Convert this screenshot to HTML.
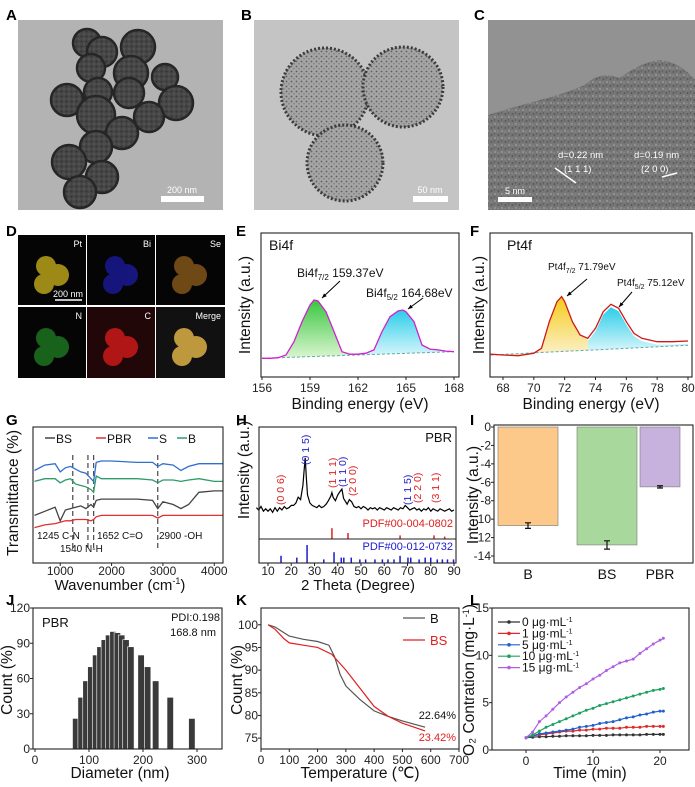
<!DOCTYPE html>
<html><head><meta charset="utf-8">
<style>
html,body{margin:0;padding:0;background:#fff;}
svg{display:block;font-family:"Liberation Sans",Arial,sans-serif;}
.pl{font-weight:bold;font-size:15px;fill:#000;}
.tk{font-size:12px;fill:#222;}
.at{font-size:15.5px;fill:#111;}
</style></head>
<body>
<svg id="fig" width="695" height="787" viewBox="0 0 695 787" xmlns="http://www.w3.org/2000/svg">
<defs>
<pattern id="speck" width="7" height="7" patternUnits="userSpaceOnUse"><rect width="7" height="7" fill="#777"/><circle cx="1.5" cy="2" r="1" fill="#5a5a5a"/><circle cx="5" cy="5" r="1.1" fill="#939393"/><circle cx="4.5" cy="1" r="0.7" fill="#555"/><circle cx="1" cy="5.5" r="0.8" fill="#8c8c8c"/></pattern>
<pattern id="speckB" width="5" height="5" patternUnits="userSpaceOnUse"><rect width="5" height="5" fill="#a5a5a5"/><circle cx="1.5" cy="1.5" r="0.9" fill="#5e5e5e"/><circle cx="4" cy="3.8" r="0.7" fill="#707070"/></pattern>
<pattern id="speckA" width="5" height="5" patternUnits="userSpaceOnUse"><rect width="5" height="5" fill="#474747"/><circle cx="1.5" cy="1.5" r="1" fill="#333"/><circle cx="4" cy="4" r="0.8" fill="#5e5e5e"/></pattern>
<linearGradient id="gGreen" x1="0" y1="0" x2="0" y2="1"><stop offset="0" stop-color="#22c02a"/><stop offset="1" stop-color="#d8f5cc"/></linearGradient>
<linearGradient id="gCyan" x1="0" y1="0" x2="0" y2="1"><stop offset="0" stop-color="#14c8e6"/><stop offset="1" stop-color="#d0f4fa"/></linearGradient>
<linearGradient id="gYel" x1="0" y1="0" x2="0" y2="1"><stop offset="0" stop-color="#f3c600"/><stop offset="1" stop-color="#fbefc8"/></linearGradient>
</defs>

<text class="pl" x="6" y="20">A</text>
<g>
<rect x="18" y="20" width="205" height="190" fill="#b3b3b3"/>
<g fill="url(#speckA)" stroke="#262626" stroke-width="2.5">
<circle cx="87" cy="43" r="14"/><circle cx="102" cy="52" r="15"/><circle cx="138" cy="47" r="17"/><circle cx="91" cy="68" r="14"/><circle cx="131" cy="73" r="17"/><circle cx="165" cy="77" r="13"/><circle cx="67" cy="100" r="16"/><circle cx="98" cy="92" r="14"/><circle cx="129" cy="93" r="15"/><circle cx="176" cy="103" r="17"/><circle cx="96" cy="115" r="19"/><circle cx="149" cy="117" r="15"/><circle cx="122" cy="133" r="16"/><circle cx="96" cy="147" r="16"/><circle cx="69" cy="162" r="17"/><circle cx="102" cy="177" r="16"/><circle cx="80" cy="192" r="16"/>
</g>
<rect x="161" y="196" width="43" height="6" fill="#fff"/>
<text x="182" y="193" font-size="9" fill="#fff" text-anchor="middle">200 nm</text>
</g>
<text class="pl" x="241" y="20">B</text>
<g>
<rect x="254" y="20" width="205" height="190" fill="#c4c4c4"/>
<g fill="url(#speckB)" stroke="#3b3b3b" stroke-width="3" stroke-dasharray="2 2">
<circle cx="325" cy="92" r="44"/><circle cx="403" cy="87" r="40"/><circle cx="345" cy="163" r="38"/>
</g>
<rect x="413" y="196" width="35" height="6" fill="#fff"/>
<text x="430" y="193" font-size="9" fill="#fff" text-anchor="middle">50 nm</text>
</g>
<text class="pl" x="474" y="20">C</text>
<g>
<rect x="488" y="20" width="207" height="190" fill="url(#speck)"/>
<path d="M488 20 H695 V80 Q680 62 660 60 Q640 62 620 78 Q600 70 585 85 Q560 95 540 100 Q510 108 488 115 Z" fill="#929292"/>
<line x1="555" y1="168" x2="576" y2="183" stroke="#fff" stroke-width="1.5"/>
<line x1="662" y1="177" x2="677" y2="173" stroke="#fff" stroke-width="1.5"/>
<text x="558" y="158" font-size="9.5" fill="#fff">d=0.22 nm</text>
<text x="564" y="172" font-size="9.5" fill="#fff">(1 1 1)</text>
<text x="634" y="158" font-size="9.5" fill="#fff">d=0.19 nm</text>
<text x="641" y="172" font-size="9.5" fill="#fff">(2 0 0)</text>
<rect x="498" y="197" width="34" height="5" fill="#fff"/>
<text x="515" y="194" font-size="9" fill="#fff" text-anchor="middle">5 nm</text>
</g>

<text class="pl" x="6" y="236">D</text>
<g font-size="9" fill="#fff">
<rect x="18" y="235" width="68" height="70" fill="#050505"/>
<rect x="87" y="235" width="68" height="70" fill="#050505"/>
<rect x="156" y="235" width="69" height="70" fill="#050505"/>
<rect x="18" y="307" width="68" height="71" fill="#050505"/>
<rect x="87" y="307" width="68" height="71" fill="#080808"/>
<rect x="156" y="307" width="69" height="71" fill="#111"/>
<g fill="#b8a21a" opacity="0.85"><circle cx="46" cy="266" r="10"/><circle cx="58" cy="275" r="11"/><circle cx="44" cy="284" r="10"/></g>
<g fill="#1a1a9a" opacity="0.8"><circle cx="115" cy="266" r="10"/><circle cx="127" cy="275" r="11"/><circle cx="113" cy="284" r="10"/></g>
<g fill="#8a5a1a" opacity="0.8"><circle cx="184" cy="266" r="10"/><circle cx="196" cy="275" r="11"/><circle cx="182" cy="284" r="10"/></g>
<g fill="#1f7a22" opacity="0.8"><circle cx="46" cy="338" r="10"/><circle cx="58" cy="347" r="11"/><circle cx="44" cy="356" r="10"/></g>
<rect x="87" y="307" width="68" height="71" fill="#3a0505" opacity="0.5"/>
<g fill="#c01818" opacity="0.9"><circle cx="115" cy="338" r="10"/><circle cx="127" cy="347" r="11"/><circle cx="113" cy="356" r="10"/></g>
<g fill="#c8a040" opacity="0.95"><circle cx="184" cy="338" r="10"/><circle cx="196" cy="347" r="11"/><circle cx="182" cy="356" r="10"/></g>
<text x="82" y="247" text-anchor="end">Pt</text><text x="151" y="247" text-anchor="end">Bi</text><text x="221" y="247" text-anchor="end">Se</text>
<text x="82" y="319" text-anchor="end">N</text><text x="151" y="319" text-anchor="end">C</text><text x="221" y="319" text-anchor="end">Merge</text>
<line x1="55" y1="300" x2="82" y2="300" stroke="#fff" stroke-width="1.5"/>
<text x="68" y="297" text-anchor="middle">200 nm</text>
</g>

<text class="pl" x="236" y="236">E</text>
<text class="pl" x="470" y="236">F</text>
<text class="pl" x="6" y="425">G</text>
<text class="pl" x="236" y="425">H</text>
<text class="pl" x="470" y="425">I</text>
<text class="pl" x="6" y="605">J</text>
<text class="pl" x="236" y="605">K</text>
<text class="pl" x="470" y="605">L</text>
</svg>

<script>
const eEnergy = [156,156.5,157,157.5,158,158.5,159,159.25,159.5,160,160.5,161,161.5,162,162.5,163,163.5,164,164.5,164.8,165,165.5,166,166.5,167,167.5,168];
const eIntensity = [13,13,13.4,15.3,24.5,38.4,50,53.5,52.8,45.3,31.5,17.6,15.8,15.8,16.5,18.8,31.5,41.9,45.8,46.5,45.3,38.4,22.2,19.4,18.8,18,17.6];
const eBaseline = [13,17.6];
const fEnergy = [67.2,68,69,70,70.5,71,71.5,71.8,72,72.5,73,73.5,74,74.5,75,75.5,76,76.5,77,78,79,80];
const fIntensity = [15.8,15.3,14.8,16.5,19.9,38.4,52.3,55.8,52.3,38.4,29.2,26.9,33.8,45.3,50.5,47.7,38.4,30.3,26.9,24.5,24.5,25];
const fBaseline = [15.3,22];
const gWave = [500,700,900,1000,1100,1200,1300,1400,1500,1600,1650,1700,1800,2000,2500,2800,2900,3000,3200,3350,3500,3700,4000,4170];
const gBS = [35,38,41,31,39,40,41,42,40,43,41,46,47,47,47,46,40,45,43,40,43,52,53,53];
const gPBR = [26,28,29,30,31,31,32,32,32,31,32,34,35,35,35,35,33,35,35,35,35,35,35,35];
const gS = [68,72,73,67,70,71,69,67,66,62,60,74,75,75,74,74,71,73,72,68,71,73,73,73];
const gB = [60,62,62,59,61,62,58,57,56,54,52,64,62,62,62,61,59,61,61,60,61,62,60,60];
const gMarks = [1245,1540,1652,2900];
const gTicks = [1000,2000,3000,4000];
const hTheta = [5,6,7,8,9,10,11,12,13,14,15,16,17,18,19,20,21,22,23,24,24.5,25,25.5,26,26.5,27,28,29,30,31,32,33,34,35,36,37,37.5,38,39,40,41,41.8,42.5,44,45,46,47,48,49,50,51,52,53,54,55,56,57,58,59,60,61,62,63,64,65,66,67,68,69,70,71,72,73,74,75,76,77,78,79,80,81,82,83,84,85,86,87,88,89,90,91,92];
const hInt = [27,25,28,24,26,24,26,23,27,24,27,25,28,26,27,29,29,31,36,34,40,46,58,70,52,38,31,29,28,27,29,27,28,30,33,37,40,36,33,38,41,43,35,30,34,32,28,27,28,26,28,27,25,27,26,27,25,27,26,25,27,26,25,27,26,25,27,26,29,27,25,26,27,25,26,24,26,25,27,24,26,25,24,26,25,24,25,26,24,25];
const hRefRed = [37.5,44.4,66.8,81.4,86];
const hRefRedH = [9,5,3,3,2];
const hRefBlue = [15.6,22.4,26.8,34,38.4,41.5,42.6,45.8,49.5,52,56,59.2,61.6,64.2,66.8,70.2,71.4,75,77.6,80,82.8,85,87.2,89.8];
const hRefBlueH = [4,3,10,2,6,3,3,3,2,2,2,2,2,2,4,3,3,2,3,3,2,2,2,2];
const hLabels = [["(0 0 6)",15.2,"#d22",505],["(0 1 5)",25.9,"#22c",465],["(1 1 1)",37.5,"#d22",488],["(1 1 0)",41.8,"#22c",487],["(2 0 0)",46.1,"#d22",496],["(1 1 5)",69.8,"#22c",505],["(2 2 0)",74.1,"#d22",503],["(3 1 1)",81.8,"#d22",503]];
const hTicks = [10,20,30,40,50,60,70,80,90];
const iCats = ["B","BS","PBR"];
const iVals = [-10.7,-12.8,-6.5];
const iErr = [0.3,0.45,0.12];
const iColors = ["#fcc98a","#a9d89c","#c6b2dc"];
const iTicks = [0,-2,-4,-6,-8,-10,-12,-14];
const jDiam = [75,85,94,103,112,120,128,136,144,152,160,168,177,196,208,223,250,290];
const jCount = [26,44,58,70,80,87,93,97,100,99,97,93,87,80,70,58,44,26];
const jXTicks = [0,100,200,300];
const jYTicks = [0,30,60,90,120];
const kTempB = [25,50,100,150,200,240,260,280,300,350,400,450,500,580];
const kB = [100,99.5,97.5,96.8,96.3,95.5,93,89,86.5,83.5,81,79.8,78.8,77.4];
const kTempBS = [25,50,80,100,150,200,250,300,350,400,450,500,580];
const kBS = [100,99,97,96,95.5,95,93.5,90,86,82,79.8,78.3,76.6];
const kXTicks = [0,100,200,300,400,500,600,700];
const kYTicks = [75,80,85,90,95,100];
const lTime = [0,1,2,3,4,5,6,7,8,9,10,11,12,13,14,15,16,17,18,19,20,20.5];
const l0 = [1.3,1.35,1.4,1.4,1.45,1.45,1.5,1.5,1.5,1.5,1.55,1.55,1.55,1.6,1.6,1.6,1.6,1.6,1.65,1.65,1.65,1.65];
const l1 = [1.3,1.5,1.6,1.7,1.8,1.9,2.0,2.0,2.1,2.1,2.2,2.2,2.3,2.3,2.3,2.4,2.4,2.4,2.5,2.5,2.5,2.5];
const l5 = [1.3,1.5,1.7,1.8,1.9,2.0,2.1,2.2,2.4,2.5,2.6,2.8,2.9,3.0,3.2,3.4,3.5,3.7,3.8,4.0,4.1,4.1];
const l10 = [1.3,1.6,2.0,2.4,2.7,3.0,3.3,3.6,3.9,4.2,4.4,4.7,4.9,5.1,5.3,5.5,5.7,5.9,6.1,6.3,6.4,6.5];
const l15 = [1.3,1.9,3.0,3.6,4.3,5.0,5.6,6.1,6.6,7.0,7.5,7.9,8.4,8.8,9.2,9.4,9.6,10.2,10.7,11.2,11.6,11.8];
const lXTicks = [0,10,20];
const lYTicks = [0,5,10,15];

const NS = "http://www.w3.org/2000/svg";
const fig = document.getElementById("fig");
function mk(tag, attrs, parent){
  const e = document.createElementNS(NS, tag);
  for (const k in attrs) e.setAttribute(k, attrs[k]);
  (parent||fig).appendChild(e);
  return e;
}
function lin(d0,d1,r0,r1){ return v => r0 + (v-d0)/(d1-d0)*(r1-r0); }
function frame(g,x0,y0,x1,y1){
  const r = mk("rect",{x:x0,y:y0,width:x1-x0,height:y1-y0,fill:"none",stroke:"#222","stroke-width":1.1},g);
  
  
}
function xTicks(g,ticks,sx,y,off){
  const o = off||15;
  ticks.forEach(t=>{
    const l = mk("line",{x1:sx(t),x2:sx(t),y1:y,y2:y+3,stroke:"#222"},g);
    
    
    const tx = mk("text",{x:sx(t),y:y+o,"text-anchor":"middle",class:"tk"},g);
    
    
    tx.textContent = t;
  });
}
function yTicks(g,ticks,sy,x){
  ticks.forEach(t=>{
    const l = mk("line",{x1:x-3,x2:x,y1:sy(t),y2:sy(t),stroke:"#222"},g);
    
    
    const tx = mk("text",{x:x-3,y:sy(t)+4,"text-anchor":"end",class:"tk"},g);
    
    
    tx.textContent = t;
  });
}
function xTitle(g,txt,x,y,fs){
  const t = mk("text",{x:x,y:y,"text-anchor":"middle",class:"at"},g);
  if(fs) t.setAttribute("font-size",fs), t.style.fontSize=fs+"px";
  
  
  t.innerHTML = txt;
}
function yTitle(g,txt,x,y){
  const t = mk("text",{x:x,y:y,"text-anchor":"middle",class:"at",transform:`rotate(-90 ${x} ${y})`},g);
  
  
  t.innerHTML = txt;
}
function pathOf(xs,ys,sx,sy){ return xs.map((v,i)=>(i?"L":"M")+sx(v).toFixed(1)+" "+sy(ys[i]).toFixed(1)).join(" "); }
function label(g,txt,x,y,opts,name){
  const a = Object.assign({x:x,y:y,"font-size":11,fill:"#111"},opts||{});
  const t = mk("text",a,g);
  
  
  t.innerHTML = txt;
  return t;
}
function arrow(g,x1,y1,x2,y2){
  const l = mk("line",{x1:x1,y1:y1,x2:x2,y2:y2,stroke:"#000","stroke-width":1},g);
  
  
  const ang = Math.atan2(y2-y1,x2-x1), s=5;
  const p = mk("path",{d:`M${x2} ${y2} L${x2-s*Math.cos(ang-0.4)} ${y2-s*Math.sin(ang-0.4)} L${x2-s*Math.cos(ang+0.4)} ${y2-s*Math.sin(ang+0.4)} Z`,fill:"#000"},g);
  
  
}

// E
(function(){
  const g = mk("g",{});  
  const x0=261,x1=459,y0=233,y1=377;
  const sx = lin(156,168,262,454), sy = lin(0,100,y1,y1-144);
  const bl = e => eBaseline[0] + (e-156)/(12)*(eBaseline[1]-eBaseline[0]);
  const split = 162;
  const le=[],li=[],re=[],ri=[];
  eEnergy.forEach((e,i)=>{ if(e<=split){le.push(e);li.push(eIntensity[i]);} if(e>=split){re.push(e);ri.push(eIntensity[i]);} });
  [[le,li,"url(#gGreen)","fill-bi4f72"],[re,ri,"url(#gCyan)","fill-bi4f52"]].forEach(([xs,ys,fill,nm])=>{
    let d = pathOf(xs,ys,sx,sy);
    for(let i=xs.length-1;i>=0;i--) d += " L"+sx(xs[i]).toFixed(1)+" "+sy(bl(xs[i])).toFixed(1);
    const p = mk("path",{d:d+" Z",fill:fill,opacity:0.9},g);
     
  });
  const b = mk("line",{x1:sx(156),y1:sy(eBaseline[0]),x2:sx(168),y2:sy(eBaseline[1]),stroke:"#6aa","stroke-dasharray":"3 2"},g);
   
  const env = mk("path",{d:pathOf(eEnergy,eIntensity,sx,sy),fill:"none",stroke:"#d020d0","stroke-width":1.3},g);
   
  frame(g,x0,y0,x1,y1);
  xTicks(g,[156,159,162,165,168],sx,y1);
  xTitle(g,"Binding energy (eV)",360,409);
  yTitle(g,"Intensity (a.u.)",250,305);
  label(g,"Bi4f",269,250,{"font-size":14},"panel-title");
  label(g,"Bi4f<tspan font-size='8' dy='3'>7/2</tspan><tspan dy='-3'> 159.37eV</tspan>",297,277,{"font-size":12},"peak-label-bi4f72");
  label(g,"Bi4f<tspan font-size='8' dy='3'>5/2</tspan><tspan dy='-3'> 164.68eV</tspan>",366,297,{"font-size":12},"peak-label-bi4f52");
  arrow(g,340,281,322,298);
  arrow(g,423,298,408,309);
})();

// F
(function(){
  const g = mk("g",{});  
  const x0=490,x1=692,y0=233,y1=377;
  const sx = lin(68,80,503,688), sy = lin(0,100,y1,y1-144);
  const bl = e => fBaseline[0] + (e-67.2)/(80-67.2)*(fBaseline[1]-fBaseline[0]);
  const split = 73.5;
  const le=[],li=[],re=[],ri=[];
  fEnergy.forEach((e,i)=>{ if(e<=split){le.push(e);li.push(fIntensity[i]);} if(e>=split){re.push(e);ri.push(fIntensity[i]-2);} });
  [[le,li,"url(#gYel)","fill-pt4f72"],[re,ri,"url(#gCyan)","fill-pt4f52"]].forEach(([xs,ys,fill,nm])=>{
    let d = pathOf(xs,ys,sx,sy);
    for(let i=xs.length-1;i>=0;i--) d += " L"+sx(xs[i]).toFixed(1)+" "+sy(bl(xs[i])).toFixed(1);
    const p = mk("path",{d:d+" Z",fill:fill,opacity:0.9},g);
     
  });
  const b = mk("line",{x1:sx(67.2),y1:sy(fBaseline[0]),x2:sx(80),y2:sy(fBaseline[1]),stroke:"#6aa","stroke-dasharray":"3 2"},g);
   
  const env = mk("path",{d:pathOf(fEnergy,fIntensity,sx,sy),fill:"none",stroke:"#d01818","stroke-width":1.3},g);
   
  frame(g,x0,y0,x1,y1);
  xTicks(g,[68,70,72,74,76,78,80],sx,y1);
  xTitle(g,"Binding energy (eV)",591,409);
  yTitle(g,"Intensity (a.u.)",484,305);
  label(g,"Pt4f",507,250,{"font-size":14},"panel-title");
  label(g,"Pt4f<tspan font-size='7' dy='3'>7/2</tspan><tspan dy='-3'> 71.79eV</tspan>",548,270,{"font-size":10},"peak-label-pt4f72");
  label(g,"Pt4f<tspan font-size='7' dy='3'>5/2</tspan><tspan dy='-3'> 75.12eV</tspan>",617,286,{"font-size":10},"peak-label-pt4f52");
  arrow(g,587,279,567,296);
  arrow(g,632,292,619,307);
})();

// G
(function(){
  const g = mk("g",{});  
  const x0=33,x1=223,y0=427,y1=563;
  const sx = lin(470,4170,x0,x1), sy = lin(0,100,y1,y0);
  gMarks.forEach(m=>{
    const l = mk("line",{x1:sx(m),x2:sx(m),y1:455,y2:550,stroke:"#222","stroke-dasharray":"5 3"},g);
     
  });
  [[gBS,"#444","series-bs"],[gPBR,"#e03030","series-pbr"],[gS,"#2f6fd0","series-s"],[gB,"#2f9a6a","series-b"]].forEach(([ys,c,nm])=>{
    const p = mk("path",{d:pathOf(gWave,ys,sx,sy),fill:"none",stroke:c,"stroke-width":1.3},g);
     
  });
  frame(g,x0,y0,x1,y1);
  xTicks(g,gTicks,sx,y1,12);
  xTitle(g,"Wavenumber (cm<tspan font-size='9' dy='-6'>-1</tspan><tspan dy='6'>)</tspan>",120,590,15);
  yTitle(g,"Transmittance (%)",18,493);
  const leg = [["BS","#444",45],["PBR","#e03030",96],["S","#2f6fd0",148],["B","#2f9a6a",177]];
  leg.forEach(([t,c,x])=>{
    const l = mk("line",{x1:x,x2:x+10,y1:438,y2:438,stroke:c,"stroke-width":1.5},g);
     
    label(g,t,x+11,443,{"font-size":12},"legend-entry");
  });
  label(g,"1245 C-N",37,539,{"font-size":10},"band-label-cn");
  label(g,"1540 N-H",60,552,{"font-size":10},"band-label-nh");
  label(g,"1652 C=O",97,539,{"font-size":10},"band-label-co");
  label(g,"2900 -OH",159,539,{"font-size":10},"band-label-oh");
})();

// H
(function(){
  const g = mk("g",{});  
  const x0=259,x1=456,y0=427,y1=563,ySplit=539;
  const sx = lin(10,90,268,454), sy = lin(0,100,ySplit,ySplit-116);
  const p = mk("path",{d:pathOf(hTheta,hInt,sx,sy),fill:"none",stroke:"#000","stroke-width":1.2},g);
   
  const sr = lin(0,10,ySplit,ySplit-12);
  hRefRed.forEach((t,i)=>{
    const l = mk("line",{x1:sx(t),x2:sx(t),y1:ySplit,y2:sr(hRefRedH[i]),stroke:"#e02020","stroke-width":1.5},g);
     
  });
  const sb = lin(0,10,y1,y1-18);
  hRefBlue.forEach((t,i)=>{
    const l = mk("line",{x1:sx(t),x2:sx(t),y1:y1,y2:sb(hRefBlueH[i]),stroke:"#1a1ad0","stroke-width":1.5},g);
     
  });
  const sl = mk("line",{x1:x0,x2:x1,y1:ySplit,y2:ySplit,stroke:"#222"},g);
   
  hLabels.forEach(([t,th,c,yb])=>{
    const x = sx(th)+4;
    const tx = mk("text",{x:x,y:yb,fill:c,"font-size":10.5,transform:`rotate(-90 ${x} ${yb})`},g);
     
    tx.textContent = t;
  });
  frame(g,x0,y0,x1,y1);
  xTicks(g,hTicks,sx,y1,12);
  xTitle(g,"2 Theta (Degree)",358,590,15);
  yTitle(g,"Intensity (a.u.)",249,470);
  label(g,"PBR",452,442,{"font-size":13,"text-anchor":"end"},"sample-label");
  label(g,"PDF#00-004-0802",453,527,{"font-size":11,fill:"#e02020","text-anchor":"end"},"ref-label-red");
  label(g,"PDF#00-012-0732",453,550,{"font-size":11,fill:"#1a1ad0","text-anchor":"end"},"ref-label-blue");
})();

// I
(function(){
  const g = mk("g",{});  
  const x0=494,x1=693,y0=427,y1=563;
  const sy = lin(0,-14,y0,556);
  const sx = i => [528,607,660][i];
  const bw = [60,60,40];
  iVals.forEach((v,i)=>{
    const r = mk("rect",{x:sx(i)-bw[i]/2,y:sy(0),width:bw[i],height:sy(v)-sy(0),fill:iColors[i],stroke:"#777","stroke-width":0.6},g);
     
    const e = mk("path",{d:`M${sx(i)} ${sy(v-iErr[i])} V${sy(v+iErr[i])} M${sx(i)-3} ${sy(v-iErr[i])} H${sx(i)+3} M${sx(i)-3} ${sy(v+iErr[i])} H${sx(i)+3}`,stroke:"#111","stroke-width":1.2,fill:"none"},g);
     
    const t = mk("text",{x:sx(i),y:y1+16,"text-anchor":"middle","font-size":14,fill:"#111"},g);
     
    t.textContent = iCats[i];
  });
  frame(g,x0,y0-2,x1,y1);
  yTicks(g,iTicks,sy,x0);
  yTitle(g,"Intensity (a.u.)",478,495);
})();

// J
(function(){
  const g = mk("g",{});  
  const x0=33,x1=222,y0=608,y1=749;
  const sx = lin(0,300,35,197), sy = lin(0,120,y1,y0);
  jDiam.forEach((d,i)=>{
    const r = mk("rect",{x:sx(d)-3,y:sy(jCount[i]),width:6.5,height:y1-sy(jCount[i]),fill:"#3a3a3a",stroke:"#fff","stroke-width":0.6},g);
     
  });
  frame(g,x0,y0,x1,y1);
  xTicks(g,jXTicks,sx,y1);
  yTicks(g,jYTicks,sy,x0);
  xTitle(g,"Diameter (nm)",120,778);
  yTitle(g,"Count (%)",12,680);
  label(g,"PBR",42,627,{"font-size":13},"sample-label");
  label(g,"PDI:0.198",220,621,{"font-size":11,"text-anchor":"end"},"pdi-label");
  label(g,"168.8 nm",216,636,{"font-size":11,"text-anchor":"end"},"size-label");
})();

// K
(function(){
  const g = mk("g",{});  
  const x0=261,x1=459,y0=608,y1=749;
  const sx = lin(0,700,x0,x1), sy = lin(72.6,103.7,y1,y0);
  const pb = mk("path",{d:pathOf(kTempB,kB,sx,sy),fill:"none",stroke:"#555","stroke-width":1.2},g);
   
  const pbs = mk("path",{d:pathOf(kTempBS,kBS,sx,sy),fill:"none",stroke:"#e02020","stroke-width":1.2},g);
   
  frame(g,x0,y0,x1,y1);
  xTicks(g,kXTicks,sx,y1);
  yTicks(g,kYTicks,sy,x0);
  xTitle(g,"Temperature (℃)",360,778);
  yTitle(g,"Count (%)",242,680);
  const l1 = mk("line",{x1:403,x2:425,y1:618,y2:618,stroke:"#555","stroke-width":1.2},g);
   
  label(g,"B",430,623,{"font-size":13},"legend-entry-b");
  const l2 = mk("line",{x1:403,x2:425,y1:640,y2:640,stroke:"#e02020","stroke-width":1.2},g);
   
  label(g,"BS",430,645,{"font-size":13,fill:"#e02020"},"legend-entry-bs");
  label(g,"22.64%",456,719,{"font-size":11,"text-anchor":"end"},"loss-label-b");
  label(g,"23.42%",456,741,{"font-size":11,fill:"#e02020","text-anchor":"end"},"loss-label-bs");
})();

// L
(function(){
  const g = mk("g",{});  
  const x0=492,x1=689,y0=608,y1=750;
  const sx = lin(0,20,526,660), sy = lin(0,15,y1,y0);
  const series = [[l0,"#333","series-0"],[l1,"#e02828","series-1"],[l5,"#2060d0","series-5"],[l10,"#20a060","series-10"],[l15,"#b060e0","series-15"]];
  series.forEach(([ys,c,nm])=>{
    const p = mk("path",{d:pathOf(lTime,ys,sx,sy),fill:"none",stroke:c,"stroke-width":1.2},g);
     
    lTime.forEach((t,i)=>{
      const c2 = mk("circle",{cx:sx(t),cy:sy(ys[i]),r:1.5,fill:c},g);
       
    });
  });
  frame(g,x0,y0,x1,y1);
  xTicks(g,lXTicks,sx,y1);
  yTicks(g,lYTicks,sy,x0);
  xTitle(g,"Time (min)",590,778);
  yTitle(g,"O₂ Contration (mg·L<tspan font-size='9' dy='-5'>-1</tspan><tspan dy='5'>)</tspan>",474,680);
  const leg = [["0","#333"],["1","#e02828"],["5","#2060d0"],["10","#20a060"],["15","#b060e0"]];
  leg.forEach(([t,c],i)=>{
    const y = 622 + i*11.4;
    const l = mk("line",{x1:498,x2:520,y1:y,y2:y,stroke:c,"stroke-width":1.2},g);
     
    const d = mk("circle",{cx:509,cy:y,r:1.8,fill:c},g);
     
    label(g,t+"  μg·mL<tspan font-size='7' dy='-4'>-1</tspan>",522,y+4,{"font-size":12},"legend-entry");
  });
})();
</script>
</body></html>
